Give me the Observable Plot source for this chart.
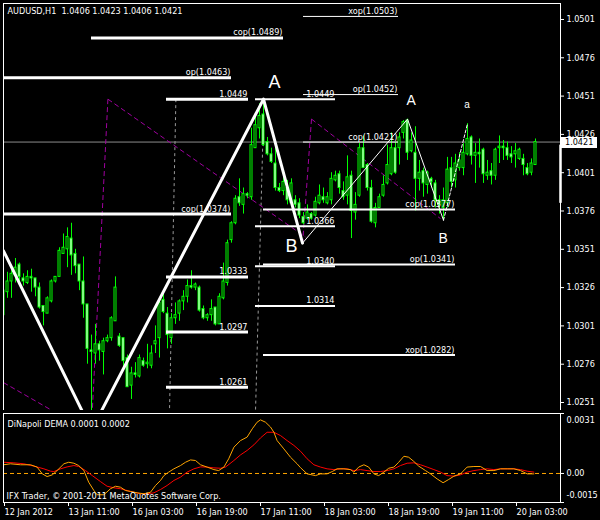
<!DOCTYPE html>
<html><head><meta charset="utf-8">
<script src="https://cdn.jsdelivr.net/npm/d3@7"></script>
<script src="https://cdn.jsdelivr.net/npm/@observablehq/plot@0.6"></script>
<style>
html,body{margin:0;padding:0;background:#000;}
#chart{position:relative;width:600px;height:520px;background:#000;overflow:hidden;}
#main{position:absolute;left:0;top:0;}
#ind{position:absolute;left:0;top:410px;}
svg{display:block;}
</style></head>
<body><div id="chart"><div id="main"></div><div id="ind"></div></div>
<script>
// ---------- texts ----------
const titleText = "AUDUSD,H1\u00a0 1.0406 1.0423 1.0406 1.0421";
const indicatorName = "DiNapoli DEMA 0.0001 0.0002";
const copyrightText = "IFX Trader, \u00a9 2001-2011 MetaQuotes Software Corp.";

// ---------- H1 candles (bar index = position in arrays) ----------
const opens = [1.0308,1.0323,1.0330,1.0334,1.0341,1.0332,1.0329,1.0333,1.0332,1.0326,
1.0314,1.0309,1.0317,1.0330,1.0333,1.0348,1.0351,1.0358,1.0348,1.0341,
1.0330,1.0315,1.0285,1.0283,1.0289,1.0284,1.0291,1.0293,1.0304,1.0294,
1.0293,1.0280,1.0262,1.0270,1.0268,1.0278,1.0276,1.0275,1.0289,1.0293,
1.0318,1.0309,1.0293,1.0306,1.0309,1.0317,1.0320,1.0327,1.0326,1.0326,
1.0312,1.0306,1.0308,1.0313,1.0302,1.0319,1.0329,1.0357,1.0368,1.0385,
1.0380,1.0387,1.0385,1.0417,1.0430,1.0439,1.0421,1.0413,1.0407,1.0391,
1.0389,1.0391,1.0381,1.0383,1.0381,1.0372,1.0371,1.0374,1.0373,1.0381,
1.0385,1.0381,1.0383,1.0396,1.0400,1.0389,1.0386,1.0399,1.0375,1.0386,
1.0417,1.0406,1.0391,1.0368,1.0378,1.0386,1.0394,1.0400,1.0417,1.0417,
1.0427,1.0435,1.0415,1.0414,1.0397,1.0402,1.0393,1.0397,1.0394,1.0383,
1.0378,1.0381,1.0404,1.0396,1.0404,1.0404,1.0413,1.0424,1.0412,1.0414,
1.0416,1.0399,1.0402,1.0399,1.0417,1.0418,1.0417,1.0413,1.0413,1.0410,
1.0410,1.0404,1.0401,1.0406];
const highs = [1.0327,1.0336,1.0337,1.0345,1.0342,1.0335,1.0337,1.0338,1.0332,1.0329,
1.0314,1.0320,1.0331,1.0333,1.0352,1.0361,1.0365,1.0368,1.0351,1.0341,
1.0346,1.0315,1.0295,1.0302,1.0291,1.0293,1.0295,1.0307,1.0333,1.0296,
1.0293,1.0282,1.0274,1.0277,1.0282,1.0280,1.0289,1.0288,1.0301,1.0318,
1.0324,1.0313,1.0309,1.0316,1.0318,1.0324,1.0331,1.0337,1.0329,1.0327,
1.0314,1.0309,1.0318,1.0313,1.0322,1.0342,1.0357,1.0369,1.0386,1.0397,
1.0391,1.0388,1.0430,1.0437,1.0446,1.0449,1.0424,1.0417,1.0419,1.0394,
1.0399,1.0396,1.0397,1.0386,1.0384,1.0375,1.0380,1.0375,1.0385,1.0393,
1.0391,1.0388,1.0401,1.0402,1.0402,1.0395,1.0412,1.0402,1.0388,1.0420,
1.0425,1.0407,1.0396,1.0381,1.0387,1.0399,1.0419,1.0427,1.0421,1.0427,
1.0435,1.0436,1.0427,1.0431,1.0409,1.0404,1.0402,1.0398,1.0396,1.0386,
1.0391,1.0411,1.0411,1.0413,1.0414,1.0420,1.0433,1.0425,1.0420,1.0423,
1.0417,1.0409,1.0407,1.0417,1.0425,1.0422,1.0421,1.0418,1.0420,1.0417,
1.0413,1.0407,1.0410,1.0423];
const lows = [1.0307,1.0319,1.0319,1.0329,1.0329,1.0327,1.0328,1.0323,1.0320,1.0312,
1.0301,1.0309,1.0316,1.0329,1.0333,1.0348,1.0339,1.0334,1.0335,1.0324,
1.0306,1.0276,1.0245,1.0276,1.0278,1.0269,1.0290,1.0291,1.0304,1.0287,
1.0274,1.0261,1.0253,1.0267,1.0267,1.0274,1.0273,1.0273,1.0283,1.0280,
1.0309,1.0286,1.0289,1.0302,1.0304,1.0311,1.0316,1.0325,1.0324,1.0310,
1.0305,1.0304,1.0304,1.0301,1.0302,1.0318,1.0327,1.0355,1.0367,1.0379,
1.0374,1.0384,1.0383,1.0417,1.0423,1.0418,1.0412,1.0407,1.0389,1.0388,
1.0386,1.0380,1.0380,1.0378,1.0371,1.0367,1.0370,1.0370,1.0372,1.0380,
1.0381,1.0380,1.0380,1.0395,1.0387,1.0383,1.0380,1.0358,1.0370,1.0385,
1.0404,1.0389,1.0368,1.0365,1.0378,1.0385,1.0393,1.0399,1.0400,1.0406,
1.0423,1.0409,1.0414,1.0376,1.0389,1.0385,1.0387,1.0391,1.0378,1.0374,
1.0370,1.0378,1.0391,1.0391,1.0402,1.0399,1.0412,1.0406,1.0394,1.0404,
1.0394,1.0396,1.0393,1.0396,1.0407,1.0409,1.0409,1.0407,1.0404,1.0409,
1.0399,1.0399,1.0399,1.0406];
const closes = [1.0324,1.0330,1.0335,1.0339,1.0333,1.0330,1.0333,1.0332,1.0326,1.0313,
1.0310,1.0319,1.0330,1.0333,1.0350,1.0352,1.0359,1.0347,1.0340,1.0330,
1.0315,1.0286,1.0284,1.0289,1.0285,1.0291,1.0293,1.0306,1.0326,1.0288,
1.0278,1.0261,1.0270,1.0269,1.0280,1.0275,1.0277,1.0283,1.0291,1.0316,
1.0310,1.0295,1.0306,1.0308,1.0317,1.0320,1.0327,1.0326,1.0328,1.0311,
1.0306,1.0308,1.0312,1.0302,1.0320,1.0330,1.0355,1.0368,1.0384,1.0381,
1.0387,1.0386,1.0419,1.0432,1.0438,1.0419,1.0413,1.0408,1.0391,1.0389,
1.0395,1.0383,1.0394,1.0380,1.0373,1.0368,1.0375,1.0371,1.0382,1.0386,
1.0383,1.0385,1.0397,1.0399,1.0391,1.0385,1.0398,1.0376,1.0380,1.0417,
1.0404,1.0391,1.0369,1.0378,1.0385,1.0393,1.0406,1.0417,1.0401,1.0424,
1.0434,1.0414,1.0422,1.0397,1.0401,1.0394,1.0401,1.0395,1.0383,1.0380,
1.0383,1.0403,1.0395,1.0407,1.0409,1.0414,1.0423,1.0412,1.0414,1.0413,
1.0400,1.0401,1.0399,1.0416,1.0418,1.0417,1.0412,1.0411,1.0415,1.0416,
1.0406,1.0400,1.0407,1.0421];

// ---------- axes ----------
const priceTicks = [1.0501,1.0476,1.0451,1.0426,1.0401,1.0376,1.0351,1.0326,1.0301,1.0276,1.0251];
const timeTickBars = [0,16,32,48,64,80,96,112,128];
const timeTickLabels = ["12 Jan 2012","13 Jan 11:00","16 Jan 03:00","16 Jan 19:00","17 Jan 11:00","18 Jan 03:00","18 Jan 19:00","19 Jan 11:00","20 Jan 03:00"];
const indTicks = [0.0031, 0, -0.0015];
const indTickLabels = ["0.0031","0.00","-0.0015"];

// ---------- DiNapoli levels ----------
const levelLabels = ["cop(1.0489)","op(1.0463)","1.0449","1.0449","xop(1.0503)","op(1.0452)","cop(1.0421)","cop(1.0374)","1.0366","cop(1.0377)","1.0340","op(1.0341)","1.0333","1.0314","1.0297","xop(1.0282)","1.0261"];
const levelPrices = [1.0489,1.0463,1.0449,1.0449,1.0503,1.0452,1.0421,1.0374,1.0366,1.0377,1.0340,1.0341,1.0333,1.0314,1.0297,1.0282,1.0261];
const levelFromBar = [22,0,40.75,63,75,75,75,0,63,65,63,65,40.75,63,40.75,65,40.75];
const levelToBar = [70,57,61.25,83,98.75,98.75,98.75,57,83,113,83,113,61.25,83,61.25,113,61.25];
const levelGroup = [1,1,1,2,3,3,3,1,2,2,2,2,1,2,1,2,1];

// ---------- zigzag & wave labels ----------
const zigzagBars = [0,22,65,74.75];
const zigzagPrices = [1.0350,1.0233,1.0449,1.0355];
const waveBars = [74.75,101,110];
const wavePrices = [1.0355,1.0436,1.0370];
const projBars = [110,116];
const projPrices = [1.0370,1.0433];
const waveLabels = ["A","B","A","B","a"];
const waveLabelBars = [67.75,72,101.9,109.9,115.9];
const waveLabelPrices = [1.0456,1.0349,1.04455,1.0355,1.04435];

// ---------- dashed helper lines ----------
const grayFromBars = [43.1,65.1], grayFromPrices = [1.0449,1.0448];
const grayToBars = [41.5,63.0], grayToPrices = [1.0245,1.0245];
const magFromBars = [26.1,26.1,0,77,77], magFromPrices = [1.0449,1.0449,1.0264,1.0436,1.0436];
const magToBars = [22.0,75.5,14,74.75,109.25], magToPrices = [1.0235,1.0359,1.0243,1.0354,1.0371];
const rightMarker = [1.0419,1.0381];

// ---------- DiNapoli DEMA ----------
const orangeBars = [0,1.75,4.25,6.75,8.4,9.7,10.9,12.2,13.4,15.1,16.3,17.6,18.8,20.1,21.3,22.6,23.4,25.1,26.75,28,
29.25,30.5,31.75,33.4,35.1,36.75,38,39.25,40.1,41.3,42.6,44.25,45.5,46.75,48,49.25,50.9,52.6,53.8,55.1,
56.3,57.6,59.25,60.9,62.2,63.4,64.25,65.5,66.75,67.6,68.4,70.1,71.75,73.4,74.25,
75.9,78,79.25,80.9,82.2,83.4,85.1,86.75,87.6,88.8,90.1,91.3,92.6,93.8,95.1,96.3,97.6,98.8,100.1,101.3,
102.6,103.8,105.5,106.75,108.4,109.9,111.3,112.6,114.25,115.9,117.6,119.25,120.9,122.6,124.25,125.9,127.6,129.25,130.9,132.6];
const orangeVals = [0.00045,0.00050,0.00045,0.00045,0.00033,-0.00002,-0.00016,-0.00007,0.00015,0.00050,0.00058,0.00053,0.00041,0.00015,-0.00045,-0.00088,-0.00110,-0.00110,-0.00079,-0.00066,
-0.00071,-0.00088,-0.00093,-0.00100,-0.00105,-0.00097,-0.00062,-0.00036,-0.00011,0.00007,0.00024,0.00041,0.00058,0.00070,0.00067,0.00045,0.00033,0.00020,0.00015,0.00033,
0.00076,0.00136,0.00170,0.00188,0.00231,0.00265,0.00277,0.00265,0.00240,0.00213,0.00170,0.00127,0.00084,0.00050,0.00030,
-0.00002,-0.00011,-0.00002,-0.00002,0.00010,0.00024,0.00024,0.00020,0.00007,0.00033,0.00045,0.00033,-0.00002,-0.00011,0.00007,0.00027,0.00033,0.00058,0.00089,0.00084,
0.00062,0.00038,0.00015,-0.00002,-0.00028,-0.00048,-0.00031,-0.00014,-0.00002,0.00033,0.00036,0.00036,0.00015,0.00015,0.00024,0.00024,0.00024,0.00015,-0.00002,-0.00002];
const redBars = [0,2.6,5.1,7.6,10.1,11.75,12.6,14.25,15.9,17.6,18.8,20.5,22.2,24.25,25.9,27.6,29.25,30.9,32.6,34.25,
35.9,37.6,39.25,40.9,42.6,44.25,45.9,47.6,49.25,50.9,52.6,54.25,55.5,57.6,59.25,60.9,62.6,64.25,65.9,67.6,
69.25,70.9,72.6,74.25,
75.9,77.6,79.25,80.9,82.6,84.25,85.9,87.6,89.25,90.9,92.6,94.25,95.9,97.6,99.25,100.9,102.6,104.25,105.9,107.6,
109.25,110.9,112.6,114.25,115.9,117.6,119.25,120.9,122.6,124.25,125.9,127.6,129.25,130.9,132.6];
const redVals = [0.00058,0.00055,0.00050,0.00038,0.00024,0.00012,0.00010,0.00024,0.00034,0.00041,0.00036,0.00015,-0.00011,-0.00042,-0.00066,-0.00074,-0.00079,-0.00088,-0.00097,-0.00105,
-0.00105,-0.00100,-0.00083,-0.00062,-0.00036,-0.00019,0.00007,0.00024,0.00034,0.00033,0.00029,0.00027,0.00033,0.00067,0.00096,0.00119,0.00148,0.00184,0.00213,0.00213,
0.00196,0.00170,0.00145,0.00115,
0.00076,0.00045,0.00033,0.00024,0.00020,0.00024,0.00024,0.00015,0.00020,0.00015,0.00010,0.00010,0.00015,0.00024,0.00041,0.00053,0.00055,0.00045,0.00033,0.00020,
0.00007,-0.00011,-0.00014,-0.00007,0.00007,0.00015,0.00020,0.00024,0.00020,0.00024,0.00024,0.00024,0.00020,0.00012,0.00007];

// ---------- build ----------
const FONT = "'DejaVu Sans Condensed','Liberation Sans',Arial,sans-serif";
const LIME = "#00ff00";
const candles = opens.map((o, i) => ({bar: i, o, h: highs[i], l: lows[i], c: closes[i]}));
const bulls = candles.filter(d => d.c >= d.o);
const bears = candles.filter(d => d.c < d.o);
const lastClose = closes[closes.length - 1];
const levels = levelLabels.map((label, i) => ({label, p: levelPrices[i], x1: levelFromBar[i], x2: levelToBar[i], g: levelGroup[i]}));
const pts = (xs, ys) => xs.map((x, i) => ({x, y: ys[i]}));
const segs = (x1, y1, x2, y2) => x1.map((x, i) => ({x1: x, y1: y1[i], x2: x2[i], y2: y2[i]}));
const waveText = waveLabels.map((t, i) => ({t, x: waveLabelBars[i], y: waveLabelPrices[i], k: i}));
const xDomain = [0, 139.25];

function currentPriceBox(index, scales, values, dims) {
  const y = Math.round(scales.y(lastClose));
  const x0 = dims.width - dims.marginRight + 1;
  const g = d3.create("svg:g");
  g.append("rect").attr("x", x0).attr("y", y - 5).attr("width", 36).attr("height", 11).attr("fill", "#fff");
  g.append("text").attr("x", x0 + 4).attr("y", y + 0.5).attr("dy", "0.32em").attr("fill", "#000")
    .attr("text-anchor", "start").attr("font-family", FONT).attr("font-size", 9).text(lastClose.toFixed(4));
  return g.node();
}

const levelMarks = [1, 2, 3].map(g => Plot.ruleY(levels.filter(d => d.g === g), {y: "p", x1: "x1", x2: "x2", stroke: "#fff", strokeWidth: 4 - g, clip: true}));

const main = Plot.plot({
  width: 600, height: 410,
  marginLeft: 3, marginRight: 40, marginTop: 3, marginBottom: 0,
  style: {background: "#000", color: "#fff", fontFamily: FONT, fontSize: "9px"},
  x: {domain: xDomain, axis: null},
  y: {domain: [1.024578, 1.051144], axis: null},
  marks: [
    Plot.ruleY([lastClose], {stroke: "#8c8c8c"}),
    Plot.link(segs(grayFromBars, grayFromPrices, grayToBars, grayToPrices), {x1: "x1", y1: "y1", x2: "x2", y2: "y2", stroke: "#9a9a9a", strokeDasharray: "3,3", clip: true}),
    Plot.link(segs(magFromBars, magFromPrices, magToBars, magToPrices), {x1: "x1", y1: "y1", x2: "x2", y2: "y2", stroke: "#a000a0", strokeDasharray: "5,3", clip: true}),
    Plot.ruleX(candles, {x: "bar", y1: "l", y2: "h", stroke: LIME, clip: true}),
    Plot.rect(bulls, {x1: d => d.bar - 0.25, x2: d => d.bar + 0.25, y1: "o", y2: "c", fill: "#000", stroke: LIME, clip: true}),
    Plot.rect(bears, {x1: d => d.bar - 0.25, x2: d => d.bar + 0.25, y1: "o", y2: "c", fill: "#fff", stroke: LIME, clip: true}),
    ...levelMarks,
    Plot.text(levels, {x: "x2", y: "p", text: "label", textAnchor: "end", lineAnchor: "bottom", dx: -1, dy: -2.5, fill: "#fff"}),
    Plot.line(pts(zigzagBars, zigzagPrices), {x: "x", y: "y", stroke: "#fff", strokeWidth: 3, clip: true}),
    Plot.line(pts(waveBars, wavePrices), {x: "x", y: "y", stroke: "#fff", strokeWidth: 1, clip: true}),
    Plot.line(pts(projBars, projPrices), {x: "x", y: "y", stroke: "#fff", strokeWidth: 1, strokeDasharray: "3,2", clip: true}),
    Plot.text(waveText, {x: "x", y: "y", text: "t", textAnchor: "middle", lineAnchor: "bottom", fill: "#fff",
      fontFamily: "'Liberation Sans',Arial,sans-serif", fontSize: d => d.k < 2 ? 18 : d.k < 4 ? 14 : 10}),
    Plot.frame({stroke: "#fff"}),
    Plot.axisY({anchor: "right", ticks: priceTicks, tickFormat: d => d.toFixed(4), tickSize: 3, tickPadding: 3, label: null}),
    currentPriceBox,
    Plot.ruleX([xDomain[1]], {y1: rightMarker[0], y2: rightMarker[1], stroke: "#fff", strokeWidth: 2.5}),
    Plot.text([titleText], {frameAnchor: "top-left", dx: 4, dy: 4, lineAnchor: "top", textAnchor: "start", fill: "#fff"})
  ]
});
document.getElementById("main").appendChild(main);

const ind = Plot.plot({
  width: 600, height: 110,
  marginLeft: 3, marginRight: 40, marginTop: 3, marginBottom: 18,
  style: {background: "#000", color: "#fff", fontFamily: FONT, fontSize: "9px"},
  x: {domain: xDomain, label: null},
  y: {domain: [-0.0015, 0.0031], axis: null, label: null},
  marks: [
    Plot.ruleY([0], {stroke: "#ffa500", strokeDasharray: "4,3"}),
    Plot.line(pts(redBars, redVals), {x: "x", y: "y", stroke: "#ff0000", strokeWidth: 1}),
    Plot.line(pts(orangeBars, orangeVals), {x: "x", y: "y", stroke: "#ffa500", strokeWidth: 1}),
    Plot.text([indicatorName], {frameAnchor: "top-left", dx: 4, dy: 7, lineAnchor: "top", textAnchor: "start", fill: "#fff"}),
    Plot.text([copyrightText], {frameAnchor: "bottom-left", dx: 3, dy: -4, lineAnchor: "bottom", textAnchor: "start", fill: "#fff"}),
    Plot.frame({stroke: "#fff"}),
    Plot.axisX({anchor: "bottom", ticks: timeTickBars, tickFormat: d => timeTickLabels[timeTickBars.indexOf(d)], tickSize: 4, tickPadding: 2, textAnchor: "start", dx: 1, label: null}),
    Plot.axisY({anchor: "right", ticks: indTicks, tickSize: 3, tickFormat: () => "", label: null}),
    ...indTicks.map((v, k) => Plot.text([v], {y: d => d, text: () => indTickLabels[k], frameAnchor: "right", dx: 6,
      dy: k === 0 ? 7 : k === indTicks.length - 1 ? -7 : 0, textAnchor: "start", lineAnchor: "middle", fill: "#fff"}))
  ]
});
document.getElementById("ind").appendChild(ind);
</script>
</body></html>
